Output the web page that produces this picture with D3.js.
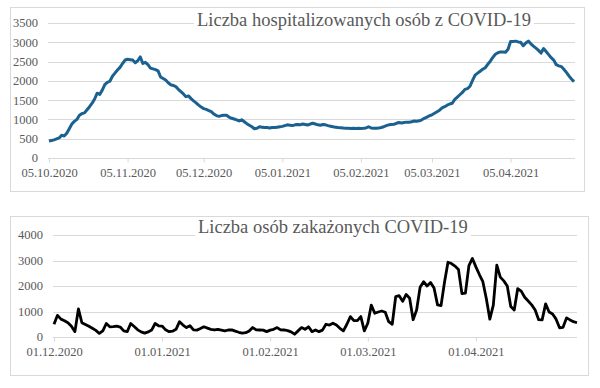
<!DOCTYPE html>
<html>
<head>
<meta charset="utf-8">
<script src="https://cdn.jsdelivr.net/npm/d3@7"></script>
<style>
  body { margin: 0; background: #fff; }
  text { font-family: "Liberation Serif", serif; fill: #595959; }
</style>
</head>
<body>
<svg width="600" height="388"></svg>
<script>
// hospitalizowani, dziennie od 05.10.2020
const hospStart = "2020-10-05";
const hospValues = [
  440, 455, 470, 495, 520, 590, 570, 640, 760, 880,
  950, 1000, 1110, 1150, 1170, 1250, 1330, 1420, 1530, 1680,
  1650, 1760, 1900, 1960, 1990, 2120, 2200, 2280, 2350, 2450,
  2540, 2560, 2550, 2540, 2470, 2520, 2620, 2450, 2480, 2420,
  2330, 2310, 2290, 2260, 2100, 2060, 2020, 1950, 1900, 1880,
  1850, 1780, 1720, 1660, 1590, 1610, 1540, 1480, 1430, 1370,
  1320, 1280, 1260, 1230, 1200, 1140, 1100, 1080, 1100, 1110,
  1110, 1060, 1030, 1010, 990, 960, 990, 940, 890, 850,
  810, 760, 770, 810, 800, 790, 790, 780, 790, 790,
  800, 810, 820, 840, 860, 850, 840, 860, 870, 860,
  880, 870, 855, 880, 900, 880, 860, 850, 870, 860,
  840, 825, 810, 800, 790, 785, 775, 770, 770, 765,
  770, 765, 770, 765, 770, 780, 810, 780, 770, 770,
  775, 790, 810, 840, 860, 870, 875, 900, 920, 910,
  920, 930, 925, 940, 960, 955, 965, 990, 1030, 1060,
  1095, 1120, 1160, 1200, 1240, 1300, 1330, 1370, 1400, 1420,
  1520, 1580, 1640, 1700, 1780, 1800, 1860, 2010, 2150, 2200,
  2250, 2300, 2340, 2430, 2510, 2610, 2690, 2730, 2750, 2750,
  2740, 2820, 3020, 3020, 3030, 3010, 3000, 2910, 2980, 3030,
  2960, 2900, 2850, 2790, 2720, 2840, 2760, 2680, 2600, 2540,
  2420, 2390, 2370, 2300, 2220, 2130, 2050, 1980
];
const hospTicks = ["2020-10-05", "2020-11-05", "2020-12-05", "2021-01-05", "2021-02-05", "2021-03-05", "2021-04-05"];
const hospYTicks = [0, 500, 1000, 1500, 2000, 2500, 3000, 3500];
const hospTitle = "Liczba hospitalizowanych osób z COVID-19";

// zakażeni, dziennie od 01.12.2020
const casesStart = "2020-12-01";
const casesValues = [
  500, 850, 700, 640, 560, 420, 210, 1100, 560, 490,
  420, 340, 260, 140, 240, 530, 400, 410, 430, 390,
  240, 210, 530, 410, 280, 200, 150, 200, 270, 530,
  440, 430, 280, 210, 230, 300, 600, 470, 370, 440,
  280, 270, 330, 400, 350, 300, 275, 300, 270, 240,
  275, 280, 230, 185, 150, 170, 240, 370, 280, 275,
  270, 210, 270, 300, 370, 280, 275, 250, 200, 110,
  240, 370, 300, 400, 210, 275, 210, 270, 500, 470,
  540, 470, 340, 240, 500, 800, 640, 640, 800, 240,
  540, 1250, 930, 980, 1020, 970, 600, 500, 1580, 1620,
  1400, 1670, 1520, 680, 1060, 1950, 2170, 2000, 2140, 1920,
  1260, 1230, 2150, 2930, 2880, 2780, 2650, 1700, 1720, 2800,
  3080, 2750, 2450, 2170, 1500, 700, 1250, 2820, 2350, 2200,
  2000, 1200, 1060, 1900, 1800, 1560, 1410, 1260, 1060, 680,
  670, 1300, 980, 900, 700, 360, 380, 750, 670, 600,
  560
];
const casesTicks = ["2020-12-01", "2021-01-01", "2021-02-01", "2021-03-01", "2021-04-01"];
const casesYTicks = [0, 1000, 2000, 3000, 4000];
const casesTitle = "Liczba osób zakażonych COVID-19";

const parse = d3.timeParse("%Y-%m-%d");
const fmt = d3.timeFormat("%d.%m.%Y");
const svg = d3.select("svg");

function drawPanel(o) {
  const g = svg.append("g");
  const start = parse(o.start);
  const data = o.values.map((v, i) => ({ date: d3.timeDay.offset(start, i), value: v }));

  g.append("rect")
    .attr("x", o.box[0] + 0.5).attr("y", o.box[1] + 0.5)
    .attr("width", o.box[2]).attr("height", o.box[3])
    .attr("fill", "#fff").attr("stroke", "#d9d9d9");

  const x = d3.scaleTime()
    .domain([start, data[data.length - 1].date])
    .range([o.left, o.right]);
  const y = d3.scaleLinear().domain([0, o.yMax]).range([o.bottom, o.top]);

  // siatka
  g.append("g").selectAll("line").data(o.yTicks).join("line")
    .attr("x1", o.left - 1).attr("x2", o.gridEnd)
    .attr("y1", d => Math.round(y(d)) + 0.5).attr("y2", d => Math.round(y(d)) + 0.5)
    .attr("stroke", "#d9d9d9").attr("stroke-width", 1);

  g.append("g").selectAll("text").data(o.yTicks).join("text")
    .attr("x", o.yLabelX).attr("y", d => y(d)).attr("dy", "0.35em")
    .attr("text-anchor", "end").attr("font-size", 12.5)
    .text(d => d);

  const xAxis = d3.axisBottom(x)
    .tickValues(o.ticks.map(parse))
    .tickFormat(fmt)
    .tickSize(4)
    .tickPadding(o.tickPad);
  const ax = g.append("g")
    .attr("transform", `translate(0,${Math.round(o.bottom) + 0.5})`)
    .call(xAxis);
  ax.select(".domain").remove();
  ax.selectAll(".tick line").attr("stroke", "#d9d9d9");
  ax.selectAll(".tick text")
    .attr("font-family", "Liberation Serif, serif")
    .attr("font-size", 12.5).attr("fill", "#595959");

  // tytuł na białym tle
  const bg = g.append("rect").attr("fill", "#fff");
  const t = g.append("text")
    .attr("x", o.titleX).attr("y", o.titleY)
    .attr("font-size", 18.5)
    .text(o.title);
  const bb = t.node().getBBox();
  bg.attr("x", bb.x - 3).attr("y", bb.y)
    .attr("width", bb.width + 6).attr("height", bb.height);

  g.append("path")
    .datum(data)
    .attr("fill", "none")
    .attr("stroke", o.color)
    .attr("stroke-width", o.strokeWidth)
    .attr("stroke-linejoin", "round")
    .attr("d", d3.line().x(d => x(d.date)).y(d => y(d.value)));

  t.raise();
}

drawPanel({
  start: hospStart, values: hospValues, ticks: hospTicks, yTicks: hospYTicks,
  title: hospTitle, yMax: 3500,
  box: [10, 7, 574, 184],
  left: 49, right: 574, gridEnd: 575, top: 23, bottom: 158,
  yLabelX: 38, tickPad: 6,
  titleX: 197, titleY: 26,
  color: "#1b6190", strokeWidth: 3
});

drawPanel({
  start: casesStart, values: casesValues, ticks: casesTicks, yTicks: casesYTicks,
  title: casesTitle, yMax: 4000,
  box: [10, 216, 578, 159],
  left: 54, right: 577, gridEnd: 577, top: 235, bottom: 337,
  yLabelX: 43, tickPad: 6,
  titleX: 198, titleY: 233,
  color: "#000", strokeWidth: 2.8
});
</script>
</body>
</html>
